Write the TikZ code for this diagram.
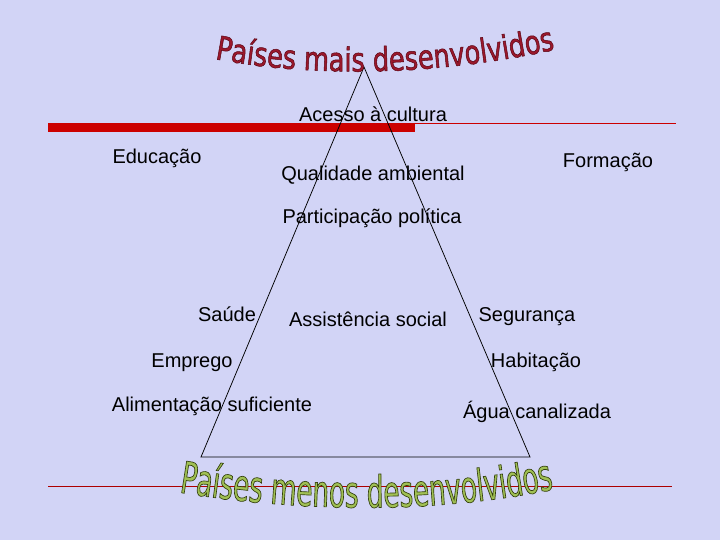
\documentclass[tikz,border=0pt]{standalone}
\usepackage{fontspec}
\setmainfont{Liberation Sans}
\newfontfamily\titulofont[FakeStretch=0.78,FakeBold=1.5]{DejaVu Sans}
\newfontfamily\titulobfont[FakeStretch=0.6,FakeBold=1.5]{DejaVu Sans}
\usetikzlibrary{decorations.text}
\definecolor{fundo}{RGB}{210,212,246}
\definecolor{vermelho}{RGB}{204,0,0}
\definecolor{vinho}{RGB}{155,24,44}
\definecolor{verde}{RGB}{160,192,84}
\newcommand\contornovinho{\special{pdf:code 0.35 0.02 0.08 RG}}
\newcommand\contornoverde{\special{pdf:code 0.2 0.25 0.05 RG}}

\begin{document}
\begin{tikzpicture}[x=1pt, y=-1pt, rotulo/.style={anchor=base, inner sep=0pt, font=\fontsize{20}{24}\selectfont}]
		\fill[fundo] (0,0) rectangle (720,540);
		\useasboundingbox (0,0) rectangle (720,540);
		\fill[vermelho] (48,123) rectangle (415,132);
		\draw[vermelho, line width=0.8pt] (415,123.5) -- (676,123.5);
		\draw[vermelho!85!black, line width=0.8pt] (48,486.5) -- (672,486.5);
		\coordinate (topo) at (364,67);
		\coordinate (esq) at (201,457);
		\coordinate (dir) at (530,457);
		\draw[line width=0.75pt] (topo) -- (esq) -- (dir) -- cycle;
		\path[decorate, decoration={text along path, text align=center,
			text={|\titulofont\fontsize{33}{36}\selectfont\color{vinho}\contornovinho|Países mais desenvolvidos}}]
			(200,56) .. controls (300,78) and (440,78) .. (570,46);
		\path[decorate, decoration={text along path, text align=center,
			text={|\titulobfont\fontsize{44}{48}\selectfont\color{verde}\contornoverde|Países menos desenvolvidos}}]
			(165,490) .. controls (300,514) and (450,514) .. (568,486);
		\node[rotulo] (A) at (373,122) {Acesso à cultura};
		\node[rotulo] (B1) at (157,164) {Educação};
		\node[rotulo] (B2) at (373,181) {Qualidade ambiental};
		\node[rotulo] (B3) at (608,168) {Formação};
		\node[rotulo] (C) at (372,224) {Participação política};
		\node[rotulo] (D1) at (227,321) {Saúde};
		\node[rotulo] (D2) at (368,326) {Assistência social};
		\node[rotulo] (D3) at (527,321) {Segurança};
		\node[rotulo] (E1) at (192,367) {Emprego};
		\node[rotulo] (E2) at (536,367) {Habitação};
		\node[rotulo] (F1) at (212,411) {Alimentação suficiente};
		\node[rotulo] (F2) at (537,418) {Água canalizada};
\end{tikzpicture}
\end{document}
